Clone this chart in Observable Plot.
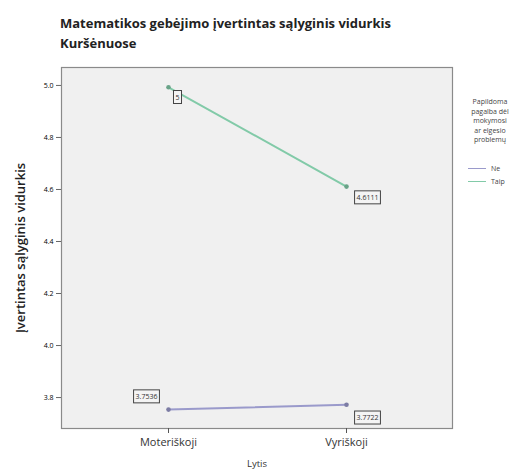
<!DOCTYPE html>
<html><head><meta charset="utf-8">
<script src="https://cdn.jsdelivr.net/npm/d3@7"></script>
<script src="https://cdn.jsdelivr.net/npm/@observablehq/plot@0.6"></script>
<style>
body{margin:0;background:#fff;font-family:"Open Sans",sans-serif;}
#wrap{position:relative;width:526px;height:475px;}
#title{position:absolute;left:60px;top:13px;font-weight:bold;font-size:13px;line-height:20px;color:#222;}
#legend{position:absolute;left:456px;top:97px;width:68px;font-size:7px;color:#444;}
#legend .t{text-align:center;line-height:9.5px;}
#legend .row{display:flex;align-items:center;margin-top:4px;margin-left:12px;}
#legend .row.first{margin-top:19px;}
#legend .row span.l{display:inline-block;width:18px;height:0;border-top:1.5px solid;margin-right:5px;}
</style></head><body>
<div id="wrap">
<div id="title">Matematikos gebėjimo įvertintas sąlyginis vidurkis<br>Kuršėnuose</div>
<div id="chart"></div>
<div id="legend"></div>
</div>
<script>
const genders = ["Moteriškoji", "Vyriškoji"];
const groups = ["Ne", "Taip"];
const neValues = [3.7536, 3.7722];
const taipValues = [4.993, 4.6111];
const neLabels = ["3.7536", "3.7722"];
const taipLabels = ["5", "4.6111"];
const yTicks = [3.8, 4.0, 4.2, 4.4, 4.6, 4.8, 5.0];
const colors = {Ne: "#9a9acb", Taip: "#82caa8"};
const legendTitle = ["Papildoma", "pagalba dėl", "mokymosi", "ar elgesio", "problemų"];

const data = [];
genders.forEach((g, i) => {
  data.push({gender: g, group: "Ne", value: neValues[i], label: neLabels[i]});
  data.push({gender: g, group: "Taip", value: taipValues[i], label: taipLabels[i]});
});
const labelOffsets = {
  "Ne|Moteriškoji": [-22, -13], "Ne|Vyriškoji": [21, 13],
  "Taip|Moteriškoji": [9, 10], "Taip|Vyriškoji": [21, 11]
};

const marks = [
  Plot.frame({fill: "#f0f0f0", stroke: "#8a8a8a", strokeWidth: 1.2}),
  Plot.axisY({ticks: yTicks, tickFormat: d3.format(".1f"), tickSize: 5, fontSize: 7, tickPadding: 3, label: null, stroke: "#666"}),
  Plot.axisX({tickSize: 5, fontSize: 11, tickPadding: 5, label: null, stroke: "#555", fill: "#333"}),
  ...groups.map(gr => Plot.line(data.filter(d => d.group === gr), {x: "gender", y: "value", stroke: colors[gr], strokeWidth: 2})),
  ...groups.map(gr => Plot.dot(data.filter(d => d.group === gr), {x: "gender", y: "value", fill: d3.color(colors[gr]).darker(0.6).formatHex(), r: 2.3})),
  ...data.map(d => Plot.text([d], {x: "gender", y: "value", text: "label", dx: labelOffsets[d.group + "|" + d.gender][0], dy: labelOffsets[d.group + "|" + d.gender][1], fontSize: 7, fill: "#333", className: "boxlab"})),
  Plot.text(["Įvertintas sąlyginis vidurkis"], {frameAnchor: "left", textAnchor: "middle", dx: -41, rotate: -90, fontSize: 13, fontWeight: "600", fill: "#222"}),
  Plot.text(["Lytis"], {frameAnchor: "bottom", dy: 38, fontSize: 9.5, fill: "#333"})
];

const chart = Plot.plot({
  width: 526, height: 475,
  marginTop: 67, marginBottom: 47, marginLeft: 61, marginRight: 74,
  style: {fontFamily: "'Open Sans', sans-serif", background: "transparent"},
  x: {type: "point", domain: genders, padding: 0.595},
  y: {domain: [3.681, 5.069]},
  marks
});
document.getElementById("chart").appendChild(chart);

// draw boxes around value labels
d3.select(chart).selectAll("g.boxlab text").each(function() {
  const b = this.getBBox();
  const tr = this.getAttribute("transform");
  d3.select(this.parentNode).insert("rect", () => this)
    .attr("x", b.x - 2).attr("y", b.y - 2).attr("width", b.width + 4).attr("height", b.height + 4)
    .attr("transform", tr).attr("fill", "#f4f4f4").attr("stroke", "#444").attr("stroke-width", 1);
});

const lg = document.getElementById("legend");
lg.innerHTML = `<div class="t">${legendTitle.join("<br>")}</div>` +
  groups.map((g, i) => `<div class="row${i === 0 ? " first" : ""}"><span class="l" style="border-color:${colors[g]}"></span>${g}</div>`).join("");
</script>
</body></html>
